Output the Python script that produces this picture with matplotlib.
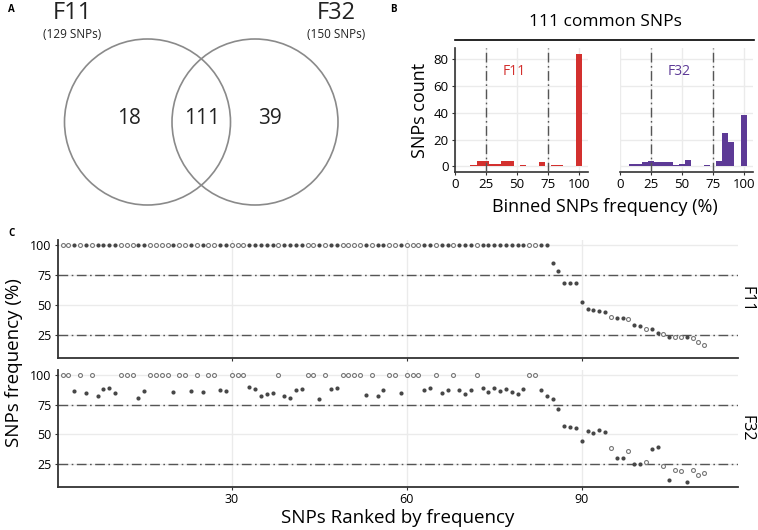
import numpy as np
import matplotlib.pyplot as plt
from matplotlib.patches import Circle

plt.rcParams['font.family'] = ['Open Sans', 'DejaVu Sans']

W, H = 758, 530

# Panel A: Venn counts
set_names = ['F11', 'F32']
set_sizes = [129, 150]
venn_counts = [18, 111, 39]

# Panel B: binned frequency histograms (bin centre, count), bin width 5
f11_bins = [15, 20, 25, 30, 35, 40, 45, 55, 70, 80, 85, 100]
f11_counts = [1, 4, 4, 2, 2, 4, 4, 1, 3, 1, 1, 84]
f32_bins = [10, 15, 20, 25, 30, 35, 40, 45, 50, 55, 70, 80, 85, 90, 100]
f32_counts = [2, 2, 3, 4, 3, 3, 3, 1, 2, 5, 1, 4, 25, 18, 38]

# Panel C: frequency of each SNP, ranked
f11_freq = [100, 100, 100, 100, 100, 100, 100, 100, 100, 100, 100, 100,
            100, 100, 100, 100, 100, 100, 100, 100, 100, 100, 100, 100,
            100, 100, 100, 100, 100, 100, 100, 100, 100, 100, 100, 100,
            100, 100, 100, 100, 100, 100, 100, 100, 100, 100, 100, 100,
            100, 100, 100, 100, 100, 100, 100, 100, 100, 100, 100, 100,
            100, 100, 100, 100, 100, 100, 100, 100, 100, 100, 100, 100,
            100, 100, 100, 100, 100, 100, 100, 100, 100, 100, 100, 100,
            85.3, 78.3, 68.6, 68.6, 68.6, 52.5, 46.4, 45.6, 44.7, 44.4,
            40.3, 39.4, 38.9, 38.1, 33.6, 32.5, 30.3, 29.7, 26.7, 25.3,
            23.6, 23.6, 22.8, 22.8, 22.5, 18.6, 16.4]
f32_freq = [100, 100, 86.8, 100, 85.1, 100, 82.6, 88.2, 89.6, 85.4,
            100, 100, 100, 80.7, 86.8, 100, 100, 100, 100, 85.7,
            100, 100, 86.8, 100, 86.0, 100, 100, 87.7, 86.6, 100,
            100, 100, 90.2, 88.2, 82.9, 84.0, 85.2, 100, 82.9, 80.7,
            87.4, 88.8, 100, 100, 79.6, 100, 88.8, 89.6, 100, 100,
            100, 100, 83.2, 100, 82.4, 88.0, 100, 100, 85.2, 100,
            100, 100, 88.0, 89.4, 100, 85.4, 88.0, 100, 87.2, 84.4,
            87.2, 100, 89.4, 86.0, 89.1, 86.6, 88.5, 86.3, 84.6, 88.3,
            100, 100, 88.0, 82.9, 80.3, 71.2, 57.1, 56.6, 55.4, 44.5,
            52.6, 51.3, 54.1, 52.1, 38.4, 30.3, 30.3, 36.1, 25.2, 24.7,
            27.1, 37.3, 39.0, 23.0, 11.2, 19.9, 19.0, 10.1, 20.2, 15.7,
            17.1]
# ranks drawn with open circles
open_ranks = [1, 2, 4, 6, 11, 12, 13, 16, 17, 18, 19, 21, 22, 24, 26, 27,
              30, 31, 32, 38, 43, 44, 46, 49, 50, 51, 52, 54, 57, 58, 60,
              61, 62, 65, 68, 72, 81, 82, 95, 98, 101, 104, 106, 107, 109,
              110, 111]

red = '#D3302E'
purple = '#5D3A96'
grid_c = '#EBEBEB'
spine_c = '#333333'
dash = (0, (7, 2.5, 1.2, 2.5))


def add_ax(l, t, r, b):
    return fig.add_axes([l / W, 1 - b / H, (r - l) / W, (b - t) / H])


fig = plt.figure(figsize=(W / 100, H / 100), dpi=100)

# ---------------- A: Venn ----------------
axA = add_ax(0, 0, 380, 230)
axA.set_xlim(0, 380)
axA.set_ylim(230, 0)
axA.axis('off')
for cx in [147.5, 255]:
    axA.add_patch(Circle((cx, 122), 83, fill=False, ec='#8A8A8A', lw=1.2))
for x, n in zip([129, 202, 270], venn_counts):
    axA.text(x, 119, str(n), ha='center', va='center', fontsize=15, color='#222222')
for x, name, n in zip([72, 336], set_names, set_sizes):
    axA.text(x, 13, name, ha='center', va='center', fontsize=17, color='#222222')
    axA.text(x, 34, f'({n} SNPs)', ha='center', va='center', fontsize=8.5, color='#222222')
fig.text(8 / W, 1 - 9 / H, 'A', fontsize=7, fontweight='bold', va='center')

# ---------------- B: histograms ----------------
fig.text(390 / W, 1 - 9 / H, 'B', fontsize=7, fontweight='bold', va='center')
fig.text(605 / W, 1 - 22 / H, '111 common SNPs', ha='center', va='center', fontsize=12.5)
fig.add_artist(plt.Line2D([455 / W, 754 / W], [1 - 40 / H, 1 - 40 / H], color='black', lw=1.2))

axB1 = add_ax(455, 48, 588, 172)
axB2 = add_ax(620, 48, 753, 172)
for ax, bins, counts, col, name in [(axB1, f11_bins, f11_counts, red, 'F11'),
                                    (axB2, f32_bins, f32_counts, purple, 'F32')]:
    ax.set_xlim(2.5, 107.5)
    ax.set_ylim(-4.2, 88.2)
    ax.set_xticks([0, 25, 50, 75, 100])
    ax.set_yticks([0, 20, 40, 60, 80])
    ax.grid(True, color=grid_c, lw=1)
    ax.set_axisbelow(True)
    ax.bar(bins, counts, width=5, color=col, zorder=2)
    for v in [25, 75]:
        ax.axvline(v, color='#555555', lw=1, ls=dash, zorder=3)
    ax.text(48, 71, name, color=col, ha='center', va='center', fontsize=10)
    for s in ['top', 'right']:
        ax.spines[s].set_visible(False)
    ax.spines['bottom'].set_color(spine_c)
    ax.spines['bottom'].set_linewidth(1.2)
    ax.spines['left'].set_color(spine_c)
    ax.spines['left'].set_linewidth(1.2)
    ax.tick_params(labelsize=9.5, length=2.5, color=spine_c, pad=2)
axB2.spines['left'].set_visible(False)
axB2.tick_params(axis='y', left=False, labelleft=False)
axB1.set_ylabel('SNPs count', fontsize=13, labelpad=3)
fig.text(605 / W, 1 - 207 / H, 'Binned SNPs frequency (%)', ha='center', va='center', fontsize=13)

# ---------------- C: ranked frequencies ----------------
fig.text(8 / W, 1 - 234 / H, 'C', fontsize=7, fontweight='bold', va='center')
ranks = np.arange(1, len(f11_freq) + 1)
is_open = np.isin(ranks, open_ranks)

axC1 = add_ax(58, 240, 738, 358)
axC2 = add_ax(58, 370, 738, 487)
for ax, freq, name in [(axC1, f11_freq, 'F11'), (axC2, f32_freq, 'F32')]:
    freq = np.array(freq)
    ax.set_xlim(0.2, 116.8)
    ax.set_ylim(5.6, 104.5)
    ax.set_xticks([30, 60, 90])
    ax.set_yticks([25, 50, 75, 100])
    ax.grid(True, color=grid_c, lw=1)
    ax.set_axisbelow(True)
    for v in [25, 75]:
        ax.axhline(v, color='#555555', lw=1, ls=dash, zorder=2)
    ax.scatter(ranks[~is_open], freq[~is_open], s=9, color='#474747', zorder=3, lw=0)
    ax.scatter(ranks[is_open], freq[is_open], s=8, facecolor='white', edgecolor='#777777',
               lw=0.8, zorder=3)
    for s in ['top', 'right']:
        ax.spines[s].set_visible(False)
    for s in ['bottom', 'left']:
        ax.spines[s].set_color(spine_c)
        ax.spines[s].set_linewidth(1.3)
    ax.tick_params(labelsize=9, length=2.5, color=spine_c, pad=2)
    ax.text(1 + 9 / 680, 0.5, name, transform=ax.transAxes, rotation=270, ha='center',
            va='center', fontsize=11.5)
axC1.tick_params(axis='x', labelbottom=False)
fig.text(14 / W, 1 - 363 / H, 'SNPs frequency (%)', rotation=90, ha='center', va='center',
         fontsize=13.5)
fig.text(398 / W, 1 - 518 / H, 'SNPs Ranked by frequency', ha='center', va='center', fontsize=13.5)

fig.savefig('out.png', dpi=100)
